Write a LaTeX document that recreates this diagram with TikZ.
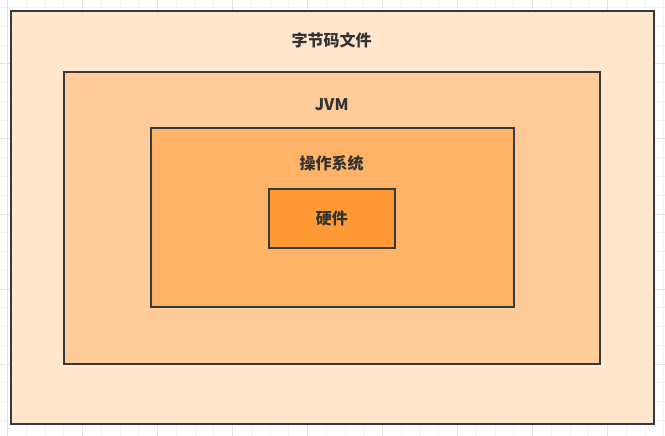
\documentclass[tikz,border=0pt]{standalone}
\usepackage{fontspec}
\setmainfont{Noto Sans CJK SC}
\definecolor{bytecodefill}{HTML}{FFE6CC}
\definecolor{jvmfill}{HTML}{FFCC99}
\definecolor{osfill}{HTML}{FFB366}
\definecolor{hardwarefill}{HTML}{FF9933}
\definecolor{edgegray}{HTML}{36393D}
\definecolor{textgray}{HTML}{333333}
\definecolor{gridminor}{HTML}{F3F3F3}
\definecolor{gridmajor}{HTML}{E4E4E4}
\begin{document}
\begin{tikzpicture}[x=1pt,y=-1pt,
    layer/.style={rectangle,draw=edgegray,line width=2pt,inner sep=0pt},
    caption/.style={text=textgray,font=\bfseries\fontsize{16}{19}\selectfont,inner sep=0pt}]
    \useasboundingbox (0,0) rectangle (665,436);
    \fill[white] (0,0) rectangle (665,436);
    \foreach \i in {0,...,35} \draw[gridminor,line width=1pt] (7.6+18.75*\i,0) -- (7.6+18.75*\i,436);
    \foreach \i in {0,...,23} \draw[gridminor,line width=1pt] (0,7.75+18.75*\i) -- (665,7.75+18.75*\i);
    \foreach \i in {0,...,8} \draw[gridmajor,line width=1pt] (7.6+75*\i,0) -- (7.6+75*\i,436);
    \foreach \i in {0,...,4} \draw[gridmajor,line width=1pt] (0,64+75*\i) -- (665,64+75*\i);
    \node[layer,fill=bytecodefill,minimum width=642.5,minimum height=413] (bytecode) at (332.25,217.5) {};
    \node[layer,fill=jvmfill,minimum width=536.5,minimum height=291.5] (jvm) at (331.75,217.75) {};
    \node[layer,fill=osfill,minimum width=363,minimum height=178.7] (os) at (332,217.65) {};
    \node[layer,fill=hardwarefill,minimum width=125.5,minimum height=59,caption] (hardware) at (331.75,218.8) {硬件};
    \node[caption] (bytecodetext) at (331.7,40) {字节码文件};
    \node[caption] (jvmtext) at (331.7,105) {JVM};
    \node[caption] (ostext) at (331.7,163.3) {操作系统};
\end{tikzpicture}
\end{document}
